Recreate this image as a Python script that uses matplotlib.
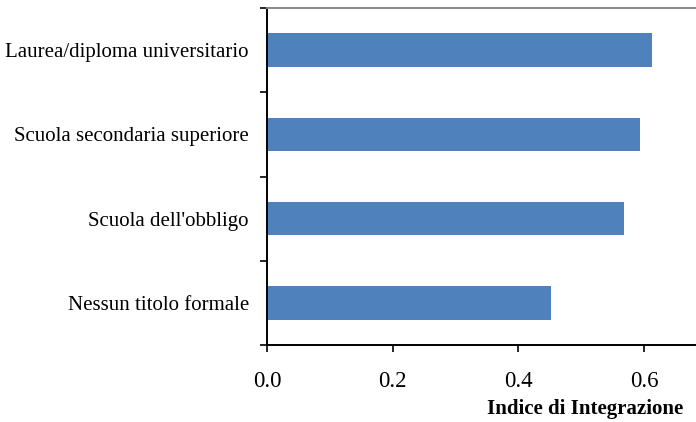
import matplotlib
matplotlib.use("Agg")
import matplotlib.pyplot as plt

categories = [
    "Nessun titolo formale",
    "Scuola dell'obbligo",
    "Scuola secondaria superiore",
    "Laurea/diploma universitario",
]
values = [0.452, 0.568, 0.594, 0.613]
x_ticks = [0.0, 0.2, 0.4, 0.6]

plt.rcParams["font.family"] = ["Liberation Serif", "DejaVu Serif"]

fig = plt.figure(figsize=(6.96, 4.22), dpi=100)
ax = fig.add_axes([267 / 696, 77 / 422, 440 / 696, 337 / 422])

pos = list(range(len(categories)))
ax.barh(pos, values, height=0.4, color="#4f81bd")

ax.set_xlim(0, 0.7)
ax.set_ylim(-0.5, len(categories) - 0.5)

ax.set_xticks(x_ticks)
ax.set_xticklabels([f"{t:.1f}" for t in x_ticks], fontsize=16.5)
ax.set_yticks([p - 0.5 for p in pos] + [len(categories) - 0.5])
ax.set_yticklabels([])
ax.set_yticks(pos, minor=True)
ax.set_yticklabels(categories, minor=True, fontsize=15)
ax.tick_params(axis="y", which="minor", length=0, pad=13)
ax.tick_params(axis="both", which="major", direction="out", length=5, width=1.2)
ax.tick_params(axis="x", pad=14)

ax.spines["left"].set_linewidth(1.4)
ax.spines["bottom"].set_linewidth(1.4)
ax.spines["top"].set_color("#888888")
ax.spines["top"].set_linewidth(1.4)
ax.spines["right"].set_visible(False)

fig.text(683 / 696, 1 - 409 / 422, "Indice di Integrazione", fontsize=15,
         fontweight="bold", ha="right", va="center")

fig.savefig("out.png", dpi=100)
